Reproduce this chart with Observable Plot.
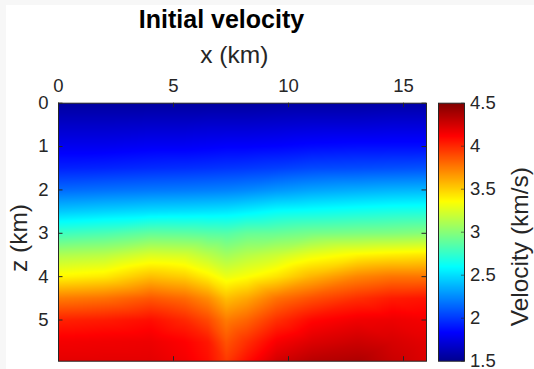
<!DOCTYPE html>
<html><head><meta charset="utf-8">
<script src="https://cdn.jsdelivr.net/npm/d3@7"></script>
<script src="https://cdn.jsdelivr.net/npm/@observablehq/plot@0.6"></script>
<style>
html,body{margin:0;padding:0;background:#f7f7f7;}
#fig{position:relative;width:534px;height:369px;overflow:hidden;}
#bg{position:absolute;left:6px;top:5px;right:0;bottom:0;background:#fff;}
.layer{position:absolute;left:0;top:0;}
</style></head><body>
<div id="fig"><div id="bg"></div>
<div id="main" class="layer"></div>
<div id="cbar" class="layer"></div>
<svg id="labels" class="layer" width="534" height="369" style="font-family:'Liberation Sans',Arial,sans-serif">
  <text x="221.5" y="27.7" text-anchor="middle" font-size="25" font-weight="bold" fill="#000">Initial velocity</text>
  <text x="234.3" y="62.5" text-anchor="middle" font-size="24.5" fill="#262626">x (km)</text>
  <text transform="translate(26.6,238) rotate(-90)" text-anchor="middle" font-size="24.5" fill="#262626">z (km)</text>
  <text transform="translate(528,246.7) rotate(-90)" text-anchor="middle" font-size="24.5" fill="#262626">Velocity (km/s)</text>
</svg>
</div>
<script>
// Sample positions (km) and velocities (km/s)
const xPositions = [0, 2, 4, 5.5, 6.5, 7.3, 8.2, 9.5, 11, 13, 14.5, 16];
const depths = [0, 0.5, 1, 1.5, 2, 2.5, 3, 3.5, 4, 4.5, 5, 5.5, 5.95];
// one column of velocities (top to bottom) for each x position
const velocityColumns = [
  [1.55, 1.67, 1.79, 1.93, 2.15, 2.44, 2.78, 3.12, 3.38, 3.75, 4.02, 4.15, 4.20],
  [1.55, 1.67, 1.79, 1.94, 2.17, 2.47, 2.82, 3.15, 3.42, 3.78, 4.04, 4.16, 4.20],
  [1.55, 1.68, 1.81, 1.96, 2.19, 2.50, 2.89, 3.25, 3.55, 3.86, 4.08, 4.17, 4.20],
  [1.55, 1.68, 1.81, 1.97, 2.20, 2.51, 2.88, 3.23, 3.50, 3.80, 4.00, 4.12, 4.15],
  [1.55, 1.69, 1.82, 1.98, 2.21, 2.52, 2.86, 3.15, 3.40, 3.70, 3.90, 4.05, 4.08],
  [1.55, 1.69, 1.83, 1.99, 2.22, 2.53, 2.85, 3.08, 3.30, 3.55, 3.75, 3.87, 3.95],
  [1.55, 1.69, 1.83, 2.00, 2.24, 2.56, 2.90, 3.14, 3.35, 3.62, 3.82, 3.98, 4.08],
  [1.56, 1.70, 1.84, 2.02, 2.28, 2.61, 2.91, 3.20, 3.44, 3.78, 3.98, 4.14, 4.25],
  [1.56, 1.71, 1.86, 2.05, 2.32, 2.63, 2.95, 3.30, 3.58, 3.88, 4.10, 4.22, 4.33],
  [1.56, 1.71, 1.87, 2.06, 2.35, 2.66, 2.97, 3.38, 3.72, 3.98, 4.16, 4.27, 4.36],
  [1.57, 1.72, 1.87, 2.07, 2.37, 2.68, 2.98, 3.41, 3.77, 4.04, 4.17, 4.24, 4.28],
  [1.57, 1.72, 1.87, 2.08, 2.38, 2.69, 3.00, 3.43, 3.77, 4.06, 4.15, 4.20, 4.22]
];
const xTicks = [0, 5, 10, 15];
const zTicks = [0, 1, 2, 3, 4, 5];
const vTicks = [1.5, 2, 2.5, 3, 3.5, 4, 4.5];
const xDomain = [0, 16];
const zDomain = [0, 5.95];
const vDomain = [1.5, 4.5];
// MATLAB "jet" colormap anchor colors
const jetPositions = [0, 7/63, 23/63, 39/63, 55/63, 1];
const jetColors = ["#00008f", "#0000ff", "#00ffff", "#ffff00", "#ff0000", "#800000"];

const jet = d3.scaleLinear().domain(jetPositions).range(jetColors).interpolate(d3.interpolateRgb).clamp(true);

const cells = [];
xPositions.forEach((x, i) => depths.forEach((z, j) => cells.push({x, z, v: velocityColumns[i][j]})));

const font = {fontFamily: "'Liberation Sans', Arial, sans-serif", fontSize: "18.5px", color: "#262626", background: "transparent", overflow: "visible"};
const ink = "#262626";

const W = 534, H = 369;
const mTop = 102.7, mBottom = H - 360.7, mLeft = 58, mRight = W - 426;
const innerW = W - mLeft - mRight, innerH = H - mTop - mBottom;

const main = Plot.plot({
  width: W, height: H,
  marginTop: mTop, marginBottom: mBottom, marginLeft: mLeft, marginRight: mRight,
  style: font,
  x: {domain: xDomain, axis: null},
  y: {domain: zDomain, reverse: true, axis: null},
  color: {type: "linear", domain: vDomain, interpolate: t => jet(t)},
  marks: [
    Plot.raster(cells, {x: "x", y: "z", fill: "v", interpolate: "barycentric",
      x1: xDomain[0], x2: xDomain[1], y1: zDomain[0], y2: zDomain[1], imageRendering: "auto"}),
    Plot.tickX(xTicks, {x: d => d, stroke: ink, insetBottom: innerH - 4.5}),
    Plot.tickX(xTicks, {x: d => d, stroke: ink, insetTop: innerH - 4.5}),
    Plot.tickY(zTicks, {y: d => d, stroke: ink, insetRight: innerW - 4.5}),
    Plot.tickY(zTicks, {y: d => d, stroke: ink, insetLeft: innerW - 4.5}),
    Plot.frame({stroke: ink, strokeWidth: 1}),
    Plot.axisX(xTicks, {anchor: "top", tickSize: 0, tickPadding: 11, label: null, fill: ink}),
    Plot.axisY(zTicks, {anchor: "left", tickSize: 0, tickPadding: 10, label: null, fill: ink})
  ]
});
document.getElementById("main").appendChild(main);

const cbLeft = 438, cbRight = 464;
const cbar = Plot.plot({
  width: W, height: H,
  marginTop: mTop, marginBottom: mBottom, marginLeft: cbLeft, marginRight: W - cbRight,
  style: font,
  x: {domain: [0, 1], axis: null},
  y: {domain: vDomain, axis: null},
  color: {type: "linear", domain: vDomain, interpolate: t => jet(t)},
  marks: [
    Plot.raster({fill: (x, y) => y, x1: 0, x2: 1, y1: vDomain[0], y2: vDomain[1]}),
    Plot.tickY(vTicks, {y: d => d, stroke: ink, strokeOpacity: 0.6, insetLeft: (cbRight - cbLeft) - 3}),
    Plot.frame({stroke: ink, strokeWidth: 1}),
    Plot.axisY(vTicks, {anchor: "right", tickSize: 0, tickPadding: 5.5, label: null, fill: ink, tickFormat: d => String(d)})
  ]
});
document.getElementById("cbar").appendChild(cbar);
</script>
</body></html>
